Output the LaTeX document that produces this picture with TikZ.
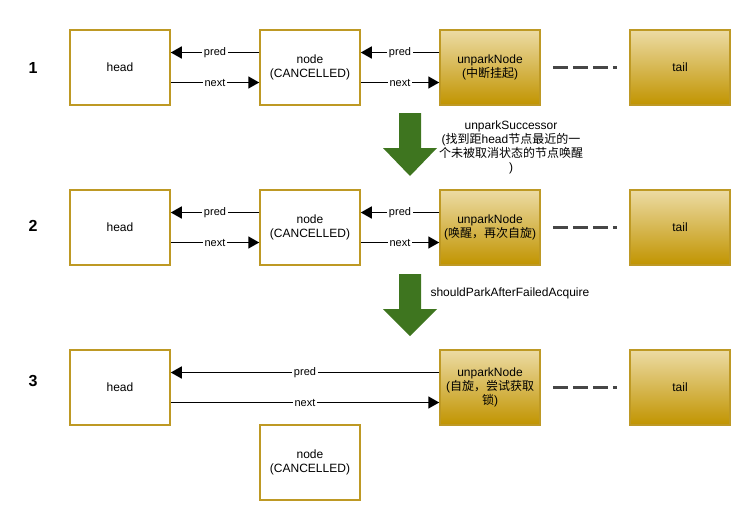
\documentclass[tikz,border=0pt]{standalone}
\usepackage{fontspec}
\setmainfont{Liberation Sans}
\newfontfamily\cjk{Noto Sans CJK SC}
\usetikzlibrary{arrows.meta,positioning}
\definecolor{goldline}{RGB}{190,153,36}
\definecolor{goldtop}{RGB}{236,219,164}
\definecolor{goldbot}{RGB}{193,148,0}
\definecolor{stepgreen}{RGB}{62,117,31}
\definecolor{dashgray}{RGB}{70,70,70}

\begin{document}
\begin{tikzpicture}[
x=1pt,
y=-1pt,
every node/.style={font=\fontsize{12}{14}\selectfont},
plainbox/.style={rectangle,draw=goldline,line width=1.5pt,fill=white,align=center,minimum width=100pt,minimum height=75pt,inner sep=0pt},
goldbox/.style={plainbox,top color=goldtop,bottom color=goldbot},
rowno/.style={font=\fontsize{16}{18}\selectfont\bfseries},
lbl/.style={font=\fontsize{11}{12}\selectfont,fill=white,inner sep=1.5pt},
link/.style={-{Triangle[length=11pt,width=12pt]},line width=1.6pt},
gap/.style={draw=dashgray,line width=2.5pt,dash pattern=on 15pt off 5pt,shorten <=12pt,shorten >=12pt},
steparrow/.style={fill=stepgreen},
stepnote/.style={align=center}
]
\useasboundingbox (0,0) rectangle (750,520);

% row 1
\node[rowno] (no1) at (33,67.5) {1};
\node[plainbox] (h1) at (120,67.5) {head};
\node[plainbox] (n1) at (310,67.5) {node\\(CANCELLED)};
\node[goldbox] (u1) at (490,67.5) {unparkNode\\({\cjk 中断挂起})};
\node[goldbox] (t1) at (680,67.5) {tail};
\draw[link] ([yshift=15pt]n1.west) -- ([yshift=15pt]h1.east) node[lbl,midway] {pred};
\draw[link] ([yshift=-15pt]h1.east) -- ([yshift=-15pt]n1.west) node[lbl,midway] {next};
\draw[link] ([yshift=15pt]u1.west) -- ([yshift=15pt]n1.east) node[lbl,midway] {pred};
\draw[link] ([yshift=-15pt]n1.east) -- ([yshift=-15pt]u1.west) node[lbl,midway] {next};
\draw[gap] (u1) -- (t1);

% step 1 -> 2
\fill[steparrow] (399,113) -- (421,113) -- (421,148) -- (437,148) -- (410,176) -- (383,148) -- (399,148) -- cycle;
\node[stepnote] (note1) at (511,147) {unparkSuccessor\\({\cjk 找到距}head{\cjk 节点最近的一}\\{\cjk 个未被取消状态的节点唤醒}\\)};

% row 2
\node[rowno] (no2) at (33,226) {2};
\node[plainbox] (h2) at (120,227.5) {head};
\node[plainbox] (n2) at (310,227.5) {node\\(CANCELLED)};
\node[goldbox] (u2) at (490,227.5) {unparkNode\\({\cjk 唤醒，再次自旋})};
\node[goldbox] (t2) at (680,227.5) {tail};
\draw[link] ([yshift=15pt]n2.west) -- ([yshift=15pt]h2.east) node[lbl,midway] {pred};
\draw[link] ([yshift=-15pt]h2.east) -- ([yshift=-15pt]n2.west) node[lbl,midway] {next};
\draw[link] ([yshift=15pt]u2.west) -- ([yshift=15pt]n2.east) node[lbl,midway] {pred};
\draw[link] ([yshift=-15pt]n2.east) -- ([yshift=-15pt]u2.west) node[lbl,midway] {next};
\draw[gap] (u2) -- (t2);

% step 2 -> 3
\fill[steparrow] (399,274) -- (421,274) -- (421,309) -- (437,309) -- (410,336) -- (383,309) -- (399,309) -- cycle;
\node[stepnote,anchor=west] (note2) at (427,293) {shouldParkAfterFailedAcquire};

% row 3
\node[rowno] (no3) at (33,381) {3};
\node[plainbox] (h3) at (120,387.5) {head};
\node[goldbox] (u3) at (490,387.5) {unparkNode\\({\cjk 自旋，尝试获取}\\{\cjk 锁})};
\node[goldbox] (t3) at (680,387.5) {tail};
\node[plainbox] (n3) at (310,462.5) {node\\(CANCELLED)};
\draw[link] ([yshift=15pt]u3.west) -- ([yshift=15pt]h3.east) node[lbl,midway] {pred};
\draw[link] ([yshift=-15pt]h3.east) -- ([yshift=-15pt]u3.west) node[lbl,midway] {next};
\draw[gap] (u3) -- (t3);
\end{tikzpicture}
\end{document}
